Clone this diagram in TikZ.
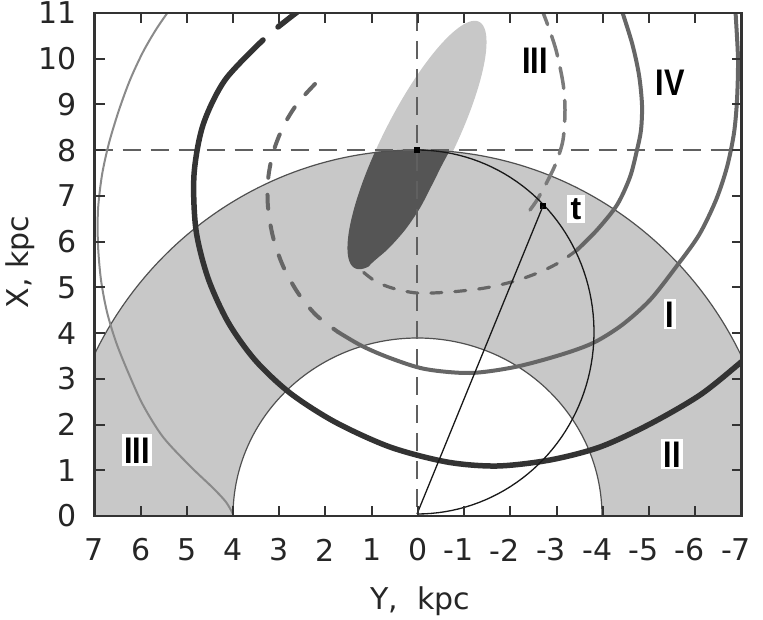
\documentclass[tikz,border=0pt]{standalone}
\usepackage{fontspec}
\setmainfont{DejaVu Sans}
\newfontfamily\labfont{Liberation Sans}
\definecolor{annul}{HTML}{C8C8C8}
\definecolor{darkreg}{HTML}{555555}
\definecolor{curveII}{HTML}{333333}
\definecolor{curveI}{HTML}{666666}
\definecolor{curveIII}{HTML}{7A7A7A}
\definecolor{thinIII}{HTML}{8A8A8A}
\definecolor{bound}{HTML}{505050}
\definecolor{axdash}{HTML}{606060}
\definecolor{framec}{HTML}{333333}
\tikzset{
  tl/.style={font=\fontsize{30}{34}\selectfont, inner sep=0pt, text=black!85},
  romlab/.style={font=\labfont\bfseries\fontsize{37}{40}\selectfont, inner sep=2pt, text height=26.5pt, text depth=0pt},
  boxed/.style={fill=white},
  tickmark/.style={line width=2pt, framec},
  sqmark/.style={fill=black, minimum size=6pt, inner sep=0pt, rectangle},
  bigII/.style={curveII, line width=5.5pt, line cap=round},
  bigI/.style={curveI, line width=4pt, line cap=round},
  thinblack/.style={black!90, line width=1.3pt},
}
\begin{document}
\begin{tikzpicture}[x=1pt,y=-1pt]
\useasboundingbox (0,0) rectangle (763,620);
\begin{scope}
\clip (94.5,13) rectangle (741.5,516);
% annulus
\fill[annul, even odd rule] (417.5,516) ellipse [x radius=360, y radius=366]
   (417.5,516) ellipse [x radius=184.5, y radius=178];
% light ellipse
\fill[annul] plot[domain=0:360, samples=120, smooth cycle]
   ({417+62.1*cos(\x)+31.3*sin(\x)}, {145-123.2*cos(\x)+15.75*sin(\x)});
% dark part
\begin{scope}
\clip plot[domain=0:360, samples=120, smooth cycle]
   ({417+62.1*cos(\x)+31.3*sin(\x)}, {145-123.2*cos(\x)+15.75*sin(\x)});
\clip (417.5,516) ellipse [x radius=360, y radius=366];
\fill[darkreg] (300,100) -- (470,100) -- plot[smooth] coordinates
  {(458,133)(450,150)(442,165)(432,185)(420,208)(405,230)(388,249)(370,265)(355,285)}
  -- (300,300) -- cycle;
\end{scope}
% annulus boundaries
\draw[bound, line width=1.2pt] (417.5,516) ellipse [x radius=360, y radius=366];
\draw[bound, line width=1.2pt] (417.5,516) ellipse [x radius=184.5, y radius=178];
% dashed axes
\draw[axdash, line width=1.6pt, dash pattern=on 18pt off 10pt] (94.5,150) -- (741.5,150);
\draw[axdash, line width=1.6pt, dash pattern=on 18pt off 10pt] (417,13) -- (417,516);
% curve III solid thin
\draw[thinIII, line width=2pt] plot[smooth] coordinates
  {(173,5)(157,28)(143,52)(130,80)(119,110)(109,143)(102,175)(98,210)(98,245)(101,280)(107,312)(116,342)(128,372)(143,405)(163,437)(190,466)(213,488)(226,502)(233,514)};
% curve III dashed
\draw[curveIII, line width=3.5pt, line cap=round, dash pattern=on 21pt off 12pt] plot[smooth] coordinates
  {(540,5)(547,23)(556,50)(563,83)(565,110)(563,140)(556,163)(547,182)(537,200)(530,210)};
% curve I
\draw[bigI, dash pattern=on 14pt off 17pt] plot[smooth] coordinates
  {(315,84)(297,104)(283,127)(273,153)(268,180)(268,207)(273,237)(283,266)(298,293)(316,315)(338,332)};
\draw[bigI] plot[smooth] coordinates
  {(338,332)(362,346)(390,358)(425,369)(470,373)(515,367)(560,355)(593,343)(622,325)(650,300)(676,267)(699,235)(716,200)(727,167)(734,133)(737,100)(738,60)(736,20)(735,5)};
% curve IV
\draw[bigI] plot[smooth] coordinates
  {(620,5)(632,43)(639,75)(642,105)(641,130)(637,150)(630,177)(617,205)(597,230)(577,250)};
\draw[curveI, line width=3.2pt, line cap=round, dash pattern=on 11pt off 13pt] plot[smooth] coordinates
  {(577,250)(560,262)(540,272)(515,281)(485,288)(450,292)(417,293)(392,288)(375,281)(362,271)};
% curve II
\draw[bigII] plot[smooth] coordinates {(278,27)(292,16)(300,10)};
\draw[bigII] plot[smooth] coordinates
  {(263,40)(225,80)(203,125)(194,175)(196,230)(208,278)(228,322)(255,360)(290,393)(335,422)(390,447)(447,462)(497,466)(550,460)(600,447)(650,424)(700,395)(740,363)(760,345)};
% tangent circle and line of sight
\draw[thinblack] plot[domain=90:-90, samples=80] ({417+177*cos(\x)}, {332-182*sin(\x)});
\coordinate (gc) at (417,514);
\node[sqmark] (sun) at (417,150) {};
\node[sqmark] (tp) at (543,206) {};
\draw[thinblack] (gc) -- (tp.center);
\end{scope}
% frame and ticks
\foreach \j in {-7,...,7} {
  \draw[tickmark] ({417.9+46.21*\j},516) -- ++(0,-10);
  \draw[tickmark] ({417.9+46.21*\j},13) -- ++(0,10);
}
\foreach \k in {0,...,11} {
  \draw[tickmark] (94.5,{516-45.73*\k}) -- ++(10,0);
  \draw[tickmark] (741.5,{516-45.73*\k}) -- ++(-10,0);
}
\draw[framec, line width=2.7pt] (94.5,13) rectangle (741.5,516);
% tick labels
\foreach \k in {0,...,11} {
  \node[tl, anchor=east] (yl\k) at (76.5,{516-45.73*\k}) {\k};
}
\foreach \j in {0,...,7} {
  \node[tl] (bl\j) at ({417.9-46.21*\j},550) {\j};
}
\foreach \j in {1,...,7} {
  \node[tl] (bn\j) at ({417.9+46.21*\j},550) {\llap{-}\j};
}
% axis titles
\node[tl, rotate=90, anchor=base] (xtitle) at (28,262) {X, kpc};
\node[tl, anchor=base] (ytitle) at (420,609) {Y,\ \ kpc};
% curve labels
\node[romlab] (labIIItop) at (535,60) {\scalebox{0.83}[1]{III}};
\node[romlab] (labIV) at (670,82) {\scalebox{0.83}[1]{IV}};
\node[romlab, boxed] (labI) at (670,314) {\scalebox{0.83}[1]{I}};
\node[romlab, boxed] (labII) at (672,454) {\scalebox{0.83}[1]{II}};
\node[romlab, boxed, inner ysep=3pt] (labIIIbot) at (137,450) {\scalebox{0.83}[1]{III}};
\node[font=\labfont\bfseries\fontsize{32}{34}\selectfont, boxed, inner xsep=4pt, inner ysep=3pt, text height=22pt, text depth=0pt] (labt) at (576,209) {t};
\end{tikzpicture}
\end{document}
